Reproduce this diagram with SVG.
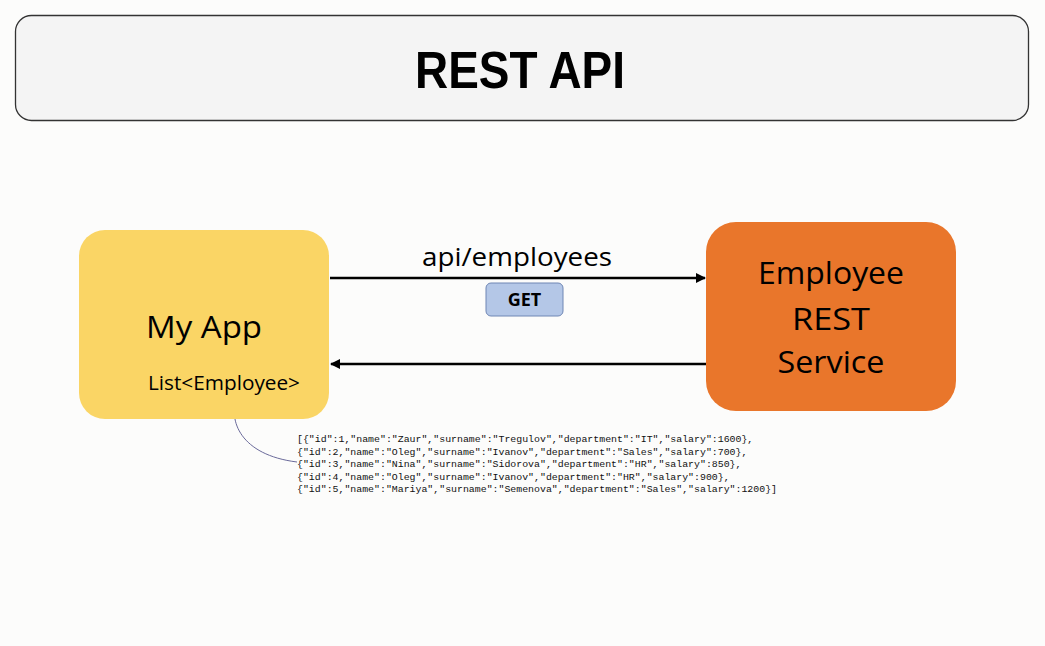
<svg xmlns="http://www.w3.org/2000/svg" width="1045" height="646" viewBox="0 0 1045 646">
<style>
.sans{font-family:"Open Sans","Liberation Sans",sans-serif;fill:#000}
.mono{font-family:"Liberation Mono","DejaVu Sans Mono",monospace;font-size:9.9px;fill:#111}
.conn{stroke:#000;stroke-width:2.5;fill:none}
</style>
<defs>
<marker id="arr" viewBox="0 0 10 10" refX="9" refY="5" markerWidth="4" markerHeight="4" orient="auto-start-reverse">
<path d="M0,0 L10,5 L0,10 z" fill="#000"/>
</marker>
</defs>
<rect width="1045" height="646" fill="#fcfcfb"/>
<g id="title">
<rect x="15.5" y="15.5" width="1013" height="105" rx="16" fill="#f4f4f4" stroke="#333" stroke-width="1.3"/>
<text x="520" y="88" text-anchor="middle" font-family="'Liberation Sans',Arial,sans-serif" font-weight="bold" font-size="52" textLength="210" lengthAdjust="spacingAndGlyphs">REST API</text>
</g>
<g id="connectors">
<line class="conn" x1="330" y1="278" x2="705" y2="278" marker-end="url(#arr)"/>
<line class="conn" x1="706" y1="364" x2="331" y2="364" marker-end="url(#arr)"/>
<path d="M237,398 C228,420 240,455 297,462" fill="none" stroke="#6a6a9a" stroke-width="1"/>
</g>
<g id="myapp">
<rect x="79" y="230" width="250" height="189" rx="26" fill="#fad565"/>
<text class="sans" x="204" y="338" text-anchor="middle" font-size="31" textLength="116" lengthAdjust="spacingAndGlyphs">My App</text>
<text class="sans" x="224" y="390" text-anchor="middle" font-size="19.5" textLength="152" lengthAdjust="spacingAndGlyphs">List&lt;Employee&gt;</text>
</g>
<g id="service">
<rect x="706" y="222" width="250" height="189" rx="30" fill="#e9762b"/>
<text class="sans" x="831" y="284" text-anchor="middle" font-size="31" textLength="146" lengthAdjust="spacingAndGlyphs">Employee</text>
<text class="sans" x="831" y="330" text-anchor="middle" font-size="31" textLength="78" lengthAdjust="spacingAndGlyphs">REST</text>
<text class="sans" x="831" y="373" text-anchor="middle" font-size="31" textLength="107" lengthAdjust="spacingAndGlyphs">Service</text>
</g>
<g id="endpoint">
<text class="sans" x="517" y="266" text-anchor="middle" font-size="26" textLength="190" lengthAdjust="spacingAndGlyphs">api/employees</text>
</g>
<g id="get">
<rect x="486" y="283" width="77" height="33" rx="5" fill="#b4c7e7" stroke="#6f86b4" stroke-width="1"/>
<text class="sans" x="524.5" y="306" text-anchor="middle" font-size="18" font-weight="bold">GET</text>
</g>
<g id="json">
<text class="mono" x="297" y="442">[{"id":1,"name":"Zaur","surname":"Tregulov","department":"IT","salary":1600},</text>
<text class="mono" x="297" y="454.5">{"id":2,"name":"Oleg","surname":"Ivanov","department":"Sales","salary":700},</text>
<text class="mono" x="297" y="467">{"id":3,"name":"Nina","surname":"Sidorova","department":"HR","salary":850},</text>
<text class="mono" x="297" y="479.5">{"id":4,"name":"Oleg","surname":"Ivanov","department":"HR","salary":900},</text>
<text class="mono" x="297" y="492">{"id":5,"name":"Mariya","surname":"Semenova","department":"Sales","salary":1200}]</text>
</g>
</svg>
